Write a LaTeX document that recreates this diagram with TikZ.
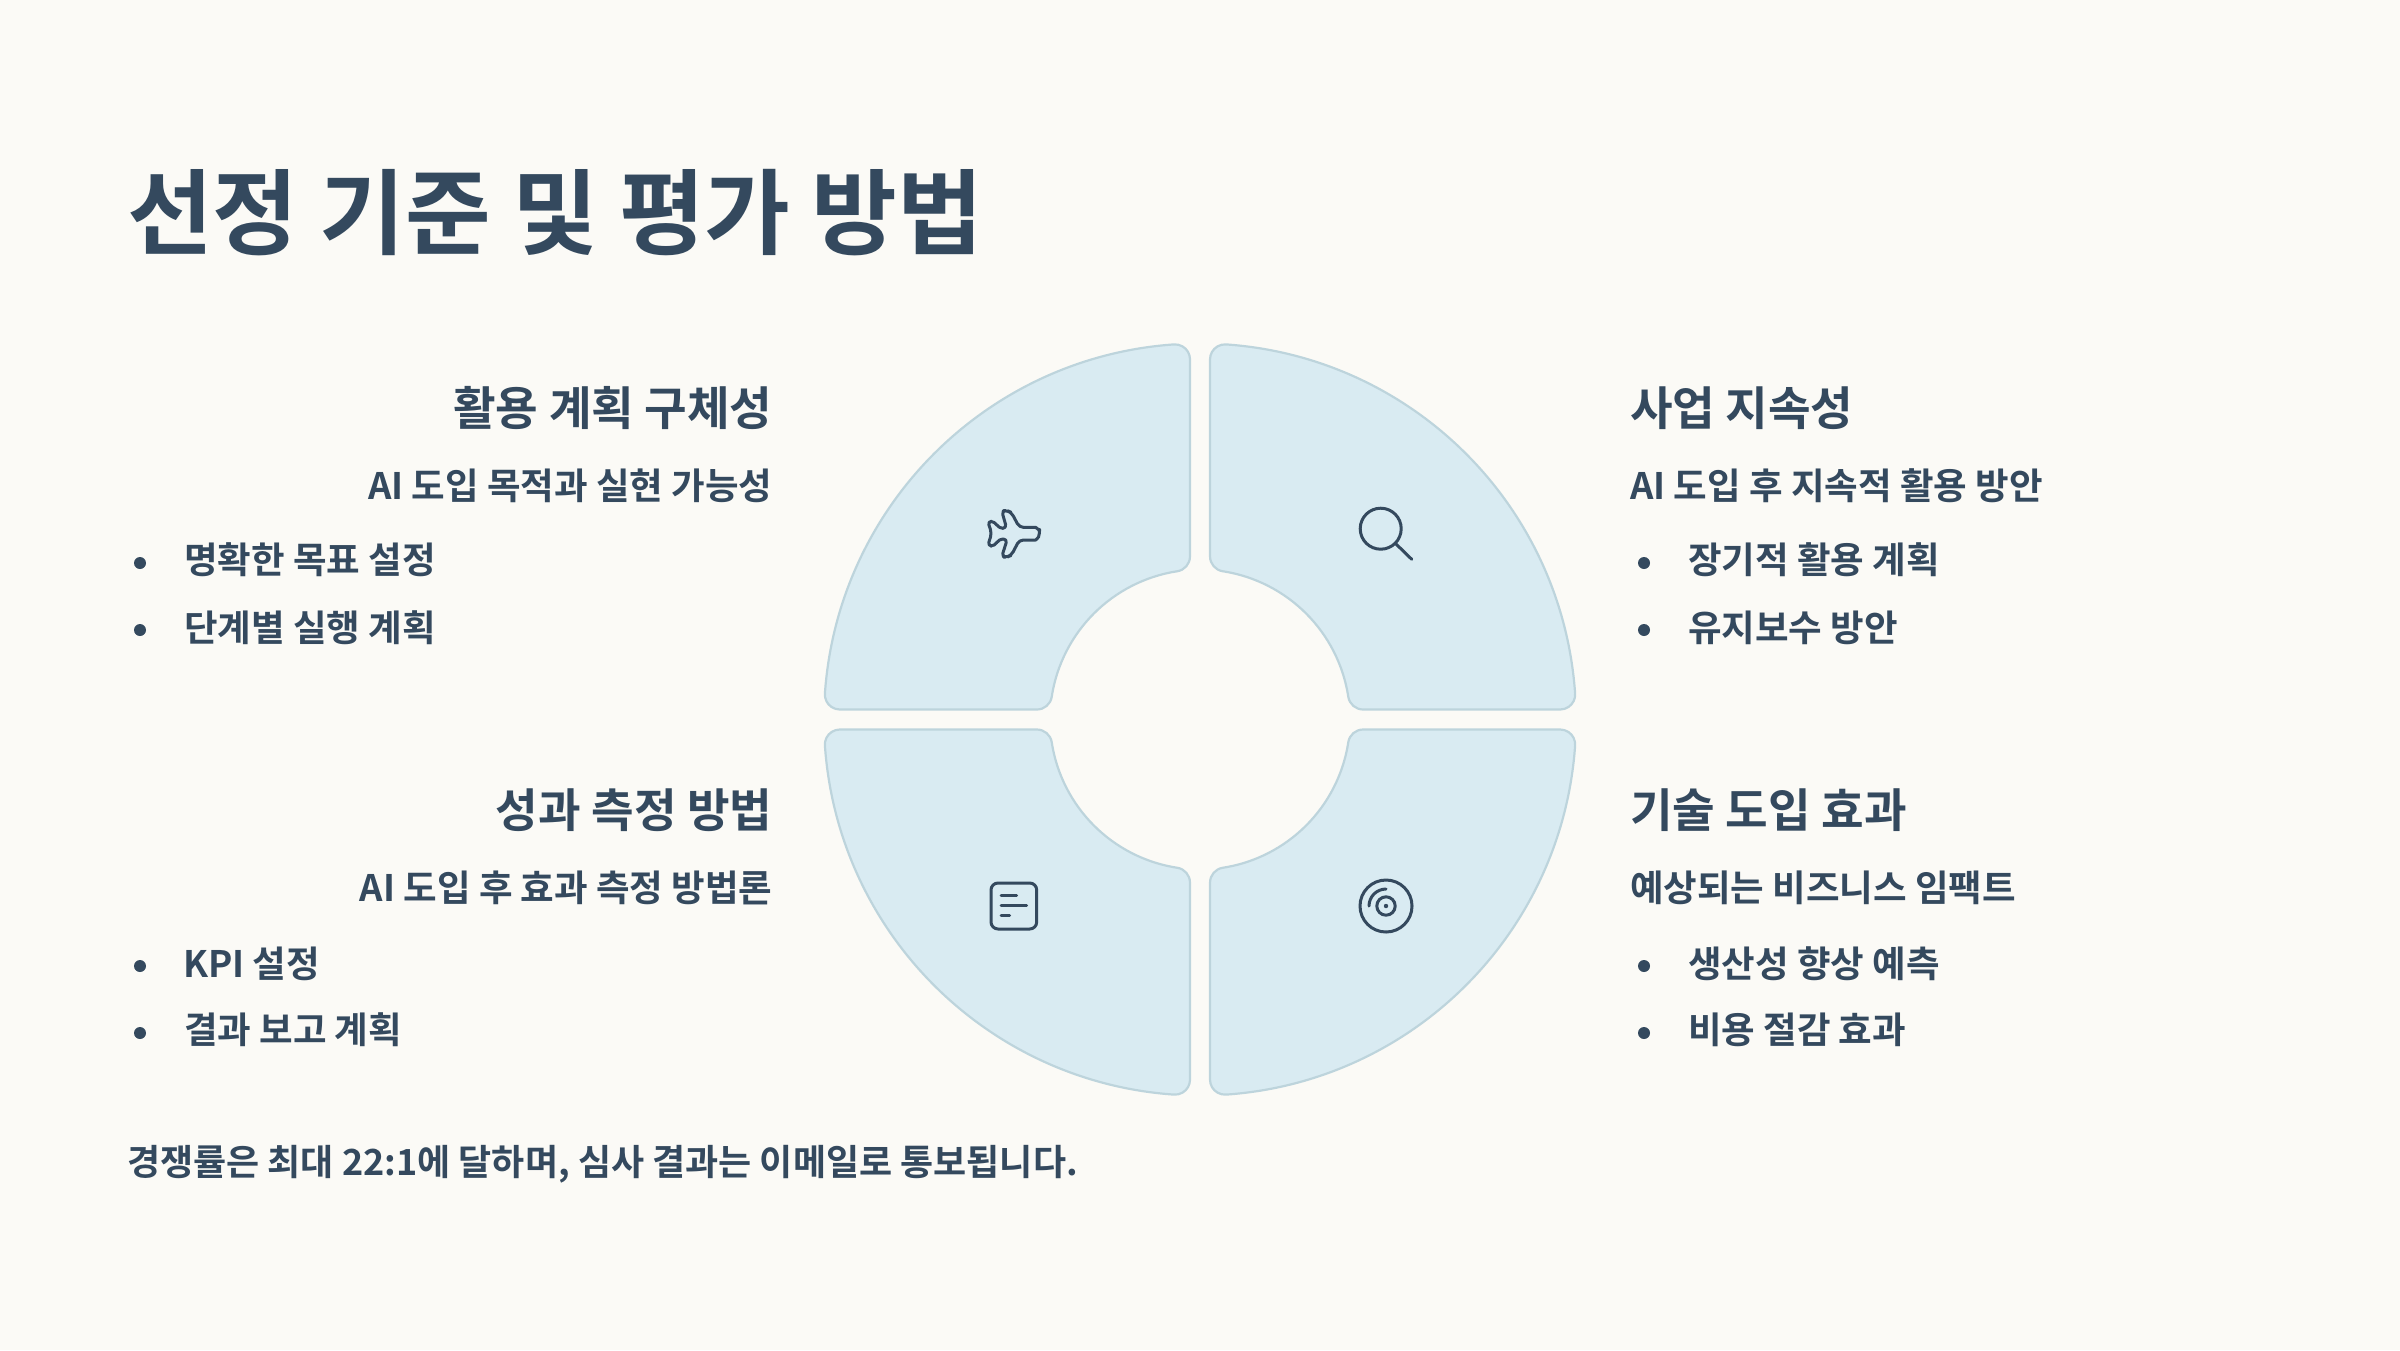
\documentclass[tikz,border=0pt]{standalone}
\usepackage{fontspec}
\usetikzlibrary{calc}
\setmainfont{Noto Sans CJK KR}[BoldFont={Noto Sans CJK KR Bold}]
\newfontfamily\krb{Noto Sans CJK KR Bold}
\definecolor{bgc}{HTML}{FBFAF6}
\definecolor{ink}{HTML}{34495E}
\definecolor{petal}{HTML}{D9EBF2}
\definecolor{petaledge}{HTML}{BDD4DC}
\tikzset{
 petalshape/.style={fill=petal,draw=petaledge,line width=2.2pt},
 icon/.style={draw=ink,line width=3pt,line cap=round,line join=round},
 txt/.style={inner sep=0pt,outer sep=0pt,text=ink,font=\krb\fontsize{36.5}{36.5}\selectfont},
 foottxt/.style={txt,font=\krb\fontsize{36}{36}\selectfont},
 ttl/.style={txt,anchor=base west,font=\krb\fontsize{93.2}{93.2}\selectfont},
 head/.style={txt,font=\krb\fontsize{46.3}{46.3}\selectfont},
 dotb/.style={fill=ink}
}
\newcommand{\petalpath}{
 (10,163.10) -- (10,360.13)
 arc[start angle=180,end angle=86.03,radius=15]
 arc[start angle=86.03,end angle=3.97,radius=376]
 arc[start angle=3.97,end angle=-90,radius=15]
 -- (163.10,10)
 arc[start angle=270,end angle=188.72,radius=15]
 arc[start angle=8.72,end angle=81.28,radius=150]
 arc[start angle=261.28,end angle=180,radius=15]
 -- cycle}
\begin{document}
\begin{tikzpicture}[x=1pt,y=-1pt]
\path[use as bounding box,fill=bgc] (0,0) rectangle (2400,1350);
% petals
\begin{scope}[shift={(1200,719.5)},y=1pt]
 \draw[petalshape] \petalpath;
 \begin{scope}[xscale=-1] \draw[petalshape] \petalpath; \end{scope}
 \begin{scope}[yscale=-1] \draw[petalshape] \petalpath; \end{scope}
 \begin{scope}[xscale=-1,yscale=-1] \draw[petalshape] \petalpath; \end{scope}
\end{scope}
% plane
\begin{scope}[shift={(950,480)},x=0.3333pt,y=-0.3333pt]
\draw[icon,rounded corners=4pt] (269,160) .. controls (266,150) and (258,142) .. (245,142) -- (208,142) -- (184,97) -- (172,92) -- (155,92) -- (170,145) -- (147,145) -- (134,125) -- (113,123) -- (125,160) -- (113,198) -- (134,198) -- (147,177) -- (172,177) -- (155,231) -- (172,231) -- (184,226) -- (208,180) -- (245,180) .. controls (258,180) and (266,170) .. cycle;
\end{scope}
% magnifier
\coordinate (magc) at (1380.7,528.7);
\coordinate (magh) at (1411.7,559.3);
\draw[icon] (magc) circle[radius=20.5];
\draw[icon] ($(magc)+(14.5,14.5)$) -- (magh);
% document
\draw[icon,rounded corners=7pt] (991,883) rectangle (1036.7,929);
\coordinate (d1a) at (1001,895.5); \coordinate (d1b) at (1016.5,895.5);
\coordinate (d2a) at (1001,905.7); \coordinate (d2b) at (1026.5,905.7);
\coordinate (d3a) at (1001,915.7); \coordinate (d3b) at (1009.5,915.7);
\draw[icon] (d1a)--(d1b); \draw[icon] (d2a)--(d2b); \draw[icon] (d3a)--(d3b);
% disc
\coordinate (cd) at (1386,906);
\draw[icon] (cd) circle[radius=26];
\draw[icon] (cd) circle[radius=9.2];
\fill[ink] (cd) circle[radius=2.2];
\draw[icon] (1369,906) arc[start angle=180,end angle=270,radius=17];
% title
\node[ttl] (title) at (127,247.5) {선정 기준 및 평가 방법};
% top left
\node[head,anchor=base east] (h1) at (772.5,425.5) {활용 계획 구체성};
\node[txt,anchor=base east] (s1) at (772.5,499) {AI 도입 목적과 실현 가능성};
\fill[dotb] (140,563) circle[radius=6];
\node[txt,anchor=base west] (b1a) at (184,573.5) {명확한 목표 설정};
\fill[dotb] (140,630) circle[radius=6];
\node[txt,anchor=base west] (b1b) at (184,641) {단계별 실행 계획};
% top right
\node[head,anchor=base west] (h2) at (1630,425.5) {사업 지속성};
\node[txt,anchor=base west] (s2) at (1630,499) {AI 도입 후 지속적 활용 방안};
\fill[dotb] (1644,563) circle[radius=6];
\node[txt,anchor=base west] (b2a) at (1688,573.5) {장기적 활용 계획};
\fill[dotb] (1644,630) circle[radius=6];
\node[txt,anchor=base west] (b2b) at (1688,641) {유지보수 방안};
% bottom left
\node[head,anchor=base east] (h3) at (772.5,827.5) {성과 측정 방법};
\node[txt,anchor=base east] (s3) at (772.5,901) {AI 도입 후 효과 측정 방법론};
\fill[dotb] (140,966) circle[radius=6];
\node[txt,anchor=base west] (b3a) at (183,977) {KPI 설정};
\fill[dotb] (140,1033) circle[radius=6];
\node[txt,anchor=base west] (b3b) at (184,1043.5) {결과 보고 계획};
% bottom right
\node[head,anchor=base west] (h4) at (1630,827.5) {기술 도입 효과};
\node[txt,anchor=base west] (s4) at (1630,901) {예상되는 비즈니스 임팩트};
\fill[dotb] (1644,966) circle[radius=6];
\node[txt,anchor=base west] (b4a) at (1688,977) {생산성 향상 예측};
\fill[dotb] (1644,1033) circle[radius=6];
\node[txt,anchor=base west] (b4b) at (1688,1043.5) {비용 절감 효과};
% footer
\node[foottxt,anchor=base west] (foot) at (127,1175) {경쟁률은 최대 22:1에 달하며, 심사 결과는 이메일로 통보됩니다.};
\end{tikzpicture}
\end{document}
